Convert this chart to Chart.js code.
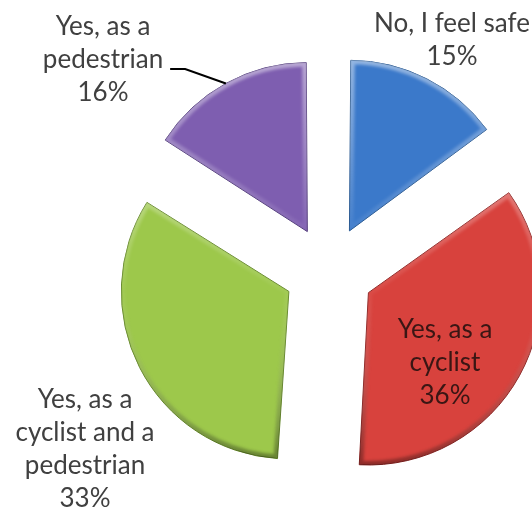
<!DOCTYPE html>
<html>
<head>
<meta charset="utf-8">
<script src="https://cdn.jsdelivr.net/npm/chart.js@4/dist/chart.umd.min.js"></script>
<style>
    html, body { margin: 0; padding: 0; background: #fff; }
    #wrap { width: 532px; height: 512px; position: relative; }
</style>
</head>
<body>
<div id="wrap"><canvas id="chart"></canvas></div>
<script>
// survey answers, clockwise from 12 o'clock
var categories = [
    ['No, I feel safe'],
    ['Yes, as a', 'cyclist'],
    ['Yes, as a', 'cyclist and a', 'pedestrian'],
    ['Yes, as a', 'pedestrian']
];
var shares = [15, 36, 33, 16];

var fills = ['#3b79ca', '#d8423d', '#9dc84b', '#7e5eb0'];
var edges = ['#24558f', '#8f2624', '#66892b', '#4f3879'];

// label block: [dx, dy] of the first baseline from the pie centre
var labelOffsets = [[123, -239], [116, 67], [-244, 137], [-226, -236]];
var labelColors = ['#404040', '#3a1614', '#404040', '#404040'];
var leaderLines = [false, false, false, true];
var lineHeight = 33;
var sliceOffset = 180; // chart.js moves an arc by offset / 4

// same outline chart.js uses for an exploded arc
function slicePath(ctx, arc) {
    var shift = sliceOffset / 4;
    var mid = (arc.startAngle + arc.endAngle) / 2;
    var alpha = arc.endAngle - arc.startAngle;
    var extra = shift * (1 - Math.sin(Math.min(Math.PI, alpha)));
    var r = arc.outerRadius + extra;
    var beta = Math.max(0.001, alpha * r - extra / Math.PI) / r;
    var trim = (alpha - beta) / 2;
    var cx = arc.x + Math.cos(mid) * shift;
    var cy = arc.y + Math.sin(mid) * shift;

    ctx.beginPath();
    ctx.moveTo(cx, cy);
    ctx.arc(cx, cy, r, arc.startAngle + trim, arc.endAngle - trim);
    ctx.closePath();
    return { x: cx, y: cy, r: r, mid: mid };
}

var bevel = {
    id: 'bevel',
    afterDatasetsDraw: function (chart) {
        var ctx = chart.ctx;
        chart.getDatasetMeta(0).data.forEach(function (arc) {
            ctx.save();
            var p = slicePath(ctx, arc);
            ctx.clip();
            var g = ctx.createLinearGradient(0, p.y - p.r, 0, p.y + p.r);
            g.addColorStop(0, 'rgba(255,255,255,0.45)');
            g.addColorStop(0.5, 'rgba(255,255,255,0.05)');
            g.addColorStop(1, 'rgba(0,0,0,0.35)');
            ctx.filter = 'blur(1.5px)';
            ctx.lineJoin = 'round';
            ctx.lineWidth = 8;
            ctx.strokeStyle = g;
            ctx.stroke();
            ctx.restore();
        });
    }
};

var sliceLabels = {
    id: 'sliceLabels',
    afterDatasetsDraw: function (chart) {
        var ctx = chart.ctx;
        var arcs = chart.getDatasetMeta(0).data;

        ctx.save();
        ctx.font = '26px Lato, "Open Sans", sans-serif';
        ctx.textAlign = 'center';
        ctx.textBaseline = 'alphabetic';

        arcs.forEach(function (arc, i) {
            var lines = categories[i].concat([shares[i] + '%']);
            var x = arc.x + labelOffsets[i][0];
            var y = arc.y + labelOffsets[i][1];

            ctx.fillStyle = labelColors[i];
            lines.forEach(function (line, n) {
                ctx.fillText(line, x, y + n * lineHeight);
            });

            if (leaderLines[i]) {
                // from the end of the second line to the middle of the outer edge
                var w = ctx.measureText(lines[1]).width;
                var sx = x + w / 2 + 7;
                var sy = y + lineHeight + 1;
                var p = slicePath(ctx, arc);
                var ex = p.x + Math.cos(p.mid) * p.r;
                var ey = p.y + Math.sin(p.mid) * p.r;

                ctx.strokeStyle = '#000';
                ctx.lineWidth = 2;
                ctx.beginPath();
                ctx.moveTo(sx, sy);
                ctx.lineTo(sx + 15, sy);
                ctx.lineTo(ex, ey);
                ctx.stroke();
            }
        });

        ctx.restore();
    }
};

new Chart(document.getElementById('chart'), {
    type: 'pie',
    data: {
        labels: categories,
        datasets: [{
            data: shares,
            backgroundColor: fills,
            borderColor: edges,
            borderWidth: 1,
            offset: sliceOffset,
            clip: false
        }]
    },
    options: {
        responsive: true,
        maintainAspectRatio: false,
        animation: false,
        radius: 162,
        layout: { padding: { left: 126, top: 30, right: 0, bottom: 0 } },
        plugins: {
            legend: { display: false },
            tooltip: { enabled: false }
        }
    },
    plugins: [bevel, sliceLabels]
});
</script>
</body>
</html>
